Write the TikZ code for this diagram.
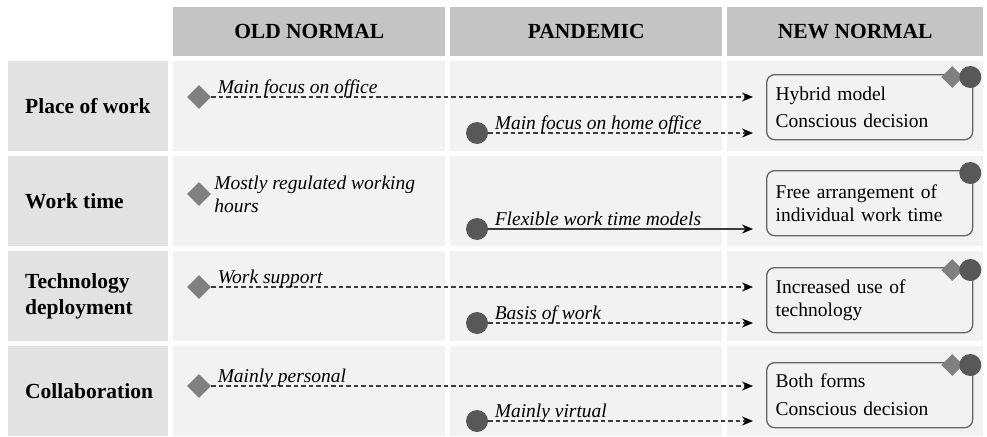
\documentclass[tikz,border=0pt]{standalone}
\usepackage{fontspec}
\setmainfont{Liberation Serif}
\usepackage{tikz}
\usetikzlibrary{shapes.geometric, arrows.meta, calc}
\definecolor{headgray}{RGB}{196,196,196}
\definecolor{labelgray}{RGB}{226,226,226}
\definecolor{cellgray}{RGB}{242,242,242}
\definecolor{diagray}{RGB}{128,128,128}
\definecolor{dotgray}{RGB}{88,88,88}
\definecolor{linegray}{RGB}{60,60,60}
\definecolor{boxgray}{RGB}{100,100,100}

\tikzset{
    head/.style={fill=headgray, anchor=north west, inner sep=0, minimum height=49pt, font=\fontsize{21.5}{26}\selectfont\bfseries},
    rowlabel/.style={fill=labelgray, anchor=north west, inner sep=0, minimum width=160pt, minimum height=90pt},
    rowtext/.style={anchor=west, align=left, inner sep=0, font=\fontsize{21.5}{26}\selectfont\bfseries},
    cell/.style={fill=cellgray, anchor=north west, inner sep=0, minimum height=90pt},
    olddia/.style={diamond, fill=diagray, inner sep=0, minimum size=24pt},
    pandot/.style={circle, fill=dotgray, inner sep=0, minimum size=22pt},
    newbox/.style={draw=boxgray, line width=1.3pt, rounded corners=8pt, fill=cellgray, anchor=north west,
        minimum width=206pt, minimum height=65pt, text width=188pt, inner xsep=9pt, align=left,
        font=\fontsize{19.5}{23}\selectfont},
    trend/.style={draw=linegray, line width=1.1pt, -{Stealth[length=11pt,width=9pt,black]}, shorten >=13pt},
    trenddash/.style={trend, dash pattern=on 4.5pt off 3pt},
    tag/.style={pos=0, anchor=base west, inner sep=2pt, xshift=4pt, yshift=4pt, font=\fontsize{19.5}{23}\selectfont\itshape}
}

\begin{document}
\begin{tikzpicture}[x=1pt, y=-1pt]
    \useasboundingbox (0,0) rectangle (987,436);

    % column heads
    \node[head, minimum width=272pt] (hold) at (173,7) {OLD NORMAL};
    \node[head, minimum width=272pt] (hpan) at (450,7) {PANDEMIC};
    \node[head, minimum width=256pt] (hnew) at (727,7) {NEW NORMAL};

    % rows
    \node[rowlabel] (r1) at (8,61) {};
    \node[rowlabel] (r2) at (8,156) {};
    \node[rowlabel] (r3) at (8,251) {};
    \node[rowlabel] (r4) at (8,346) {};
    \node[rowtext] at ($(r1.west)+(17,0)$) {Place of work};
    \node[rowtext] at ($(r2.west)+(17,0)$) {Work time};
    \node[rowtext] at ($(r3.west)+(17,0)$) {Technology\\deployment};
    \node[rowtext] at ($(r4.west)+(17,0)$) {Collaboration};

    \node[cell, minimum width=272pt] (o1) at (173,61) {};
    \node[cell, minimum width=272pt] (p1) at (450,61) {};
    \node[cell, minimum width=256pt] (n1) at (727,61) {};
    \node[cell, minimum width=272pt] (o2) at (173,156) {};
    \node[cell, minimum width=272pt] (p2) at (450,156) {};
    \node[cell, minimum width=256pt] (n2) at (727,156) {};
    \node[cell, minimum width=272pt] (o3) at (173,251) {};
    \node[cell, minimum width=272pt] (p3) at (450,251) {};
    \node[cell, minimum width=256pt] (n3) at (727,251) {};
    \node[cell, minimum width=272pt] (o4) at (173,346) {};
    \node[cell, minimum width=272pt] (p4) at (450,346) {};
    \node[cell, minimum width=256pt] (n4) at (727,346) {};

    % new normal boxes
    \node[newbox] (b1) at (766,74) {Hybrid model\\[4pt]Conscious decision};
    \node[newbox] (b2) at (766,170) {Free arrangement of\\individual work time};
    \node[newbox] (b3) at (766,267) {Increased use of\\technology};
    \node[newbox] (b4) at (766,362) {Both forms\\[5pt]Conscious decision};

    \node[olddia, minimum size=22pt] (b1d) at ($(b1.north east)+(-21,3)$) {};
    \node[pandot] (b1c) at ($(b1.north east)+(-3,3)$) {};
    \node[pandot] (b2c) at ($(b2.north east)+(-3,3)$) {};
    \node[olddia, minimum size=22pt] (b3d) at ($(b3.north east)+(-21,3)$) {};
    \node[pandot] (b3c) at ($(b3.north east)+(-3,3)$) {};
    \node[olddia, minimum size=22pt] (b4d) at ($(b4.north east)+(-21,3)$) {};
    \node[pandot] (b4c) at ($(b4.north east)+(-3,3)$) {};

    % markers
    \node[olddia] (d1) at (199,97) {};
    \node[olddia] (d2) at (199,194) {};
    \node[olddia] (d3) at (199,287) {};
    \node[olddia] (d4) at (199,386) {};
    \node[pandot] (c1) at (477,133) {};
    \node[pandot] (c2) at (477,229) {};
    \node[pandot] (c3) at (477,323) {};
    \node[pandot] (c4) at (477,421) {};

    % trends
    \draw[trenddash] (d1) -- node[tag] {Main focus on office} (d1 -| b1.west);
    \draw[trenddash] (c1) -- node[tag] {Main focus on home office} (c1 -| b1.west);
    \node[anchor=west, align=left, inner sep=2pt, xshift=1pt, font=\fontsize{19.5}{23}\selectfont\itshape] (t2) at (d2.east) {Mostly regulated working\\hours};
    \draw[trend] (c2) -- node[tag] {Flexible work time models} (c2 -| b2.west);
    \draw[trenddash] (d3) -- node[tag] {Work support} (d3 -| b3.west);
    \draw[trenddash] (c3) -- node[tag] {Basis of work} (c3 -| b3.west);
    \draw[trenddash] (d4) -- node[tag] {Mainly personal} (d4 -| b4.west);
    \draw[trenddash] (c4) -- node[tag] {Mainly virtual} (c4 -| b4.west);
\end{tikzpicture}
\end{document}
